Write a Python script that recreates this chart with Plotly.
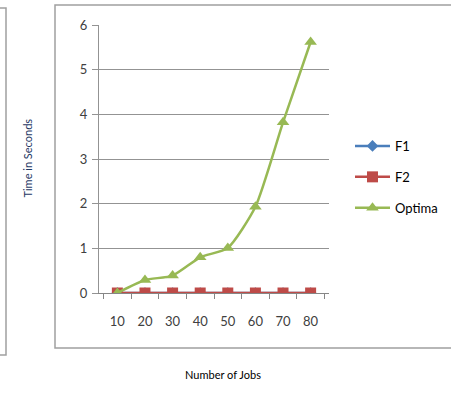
import plotly.graph_objects as go

jobs = ["10", "20", "30", "40", "50", "60", "70", "80"]
f1 = [0, 0, 0, 0, 0, 0, 0, 0]
f2 = [0, 0, 0, 0, 0, 0, 0, 0]
optima = [0.0, 0.29, 0.39, 0.80, 1.01, 1.93, 3.82, 5.62]

W, H = 451, 395
L, R, T, B = 99, 329, 25, 293

def px(x):
    return (x - L) / (R - L)

def py(y):
    return (B - y) / (B - T)

fig = go.Figure()
fig.add_trace(go.Scatter(x=jobs, y=f1, name="F1", mode="lines+markers",
                         line=dict(color="#4A7EBB", width=2.5),
                         marker=dict(symbol="diamond", size=9, color="#4A7EBB"),
                         legendgroup="a"))
fig.add_trace(go.Scatter(x=jobs, y=f2, name="F2", mode="lines+markers",
                         line=dict(color="#BE4B48", width=2.5),
                         marker=dict(symbol="square", size=11, color="#BE4B48"),
                         legendgroup="b"))
fig.add_trace(go.Scatter(x=jobs, y=optima, name="Optima", mode="lines+markers",
                         line=dict(color="#98B954", width=2.5, shape="spline", smoothing=0.6),
                         marker=dict(symbol="triangle-up", size=11, color="#98B954"),
                         legendgroup="c"))

font = "Lato, 'Open Sans', sans-serif"
fig.update_layout(
    width=W, height=H,
    margin=dict(l=L, r=W - R, t=T, b=H - B, autoexpand=False),
    paper_bgcolor="white", plot_bgcolor="white",
    font=dict(family=font, size=13, color="#404040"),
    showlegend=True,
    legend=dict(x=px(350), y=py(131), xanchor="left", yanchor="top",
                font=dict(size=13, color="#000000"), tracegroupgap=11,
                itemwidth=35, bgcolor="rgba(0,0,0,0)"),
    xaxis=dict(type="category", showgrid=False, showline=True,
               linecolor="#868686", linewidth=1, ticks="outside",
               tickson="boundaries", ticklen=5, tickcolor="#868686",
               ticklabelstandoff=16, zeroline=False, fixedrange=True,
               automargin=False, tickfont=dict(size=13, color="#404040")),
    yaxis=dict(range=[0, 6], tickvals=[0, 1, 2, 3, 4, 5, 6], showgrid=True,
               gridcolor="#939393", gridwidth=1, showline=True,
               linecolor="#939393", linewidth=1, ticks="outside",
               ticklen=6, tickcolor="#939393", zeroline=False, automargin=False,
               ticklabelstandoff=2, tickfont=dict(size=13, color="#404040")),
    shapes=[
        dict(type="rect", xref="paper", yref="paper",
             x0=px(55), x1=px(460), y0=py(348), y1=py(5),
             line=dict(color="#A0A0A0", width=1.5)),
        dict(type="path", xref="paper", yref="paper",
             path=f"M {px(-5)} {py(8)} L {px(6)} {py(8)} L {px(6)} {py(355)} L {px(-5)} {py(355)}",
             line=dict(color="#A0A0A0", width=1.5)),
    ],
    annotations=[
        dict(text="Time in Seconds", xref="paper", yref="paper",
             x=px(18), y=py(158), showarrow=False, textangle=-90,
             font=dict(size=11, color="#1F3864", family=font)),
        dict(text="Number of Jobs", xref="paper", yref="paper",
             x=px(263), y=py(383), showarrow=False,
             font=dict(size=11, color="#000000", family=font)),
    ],
)

fig.write_html("out.html")
